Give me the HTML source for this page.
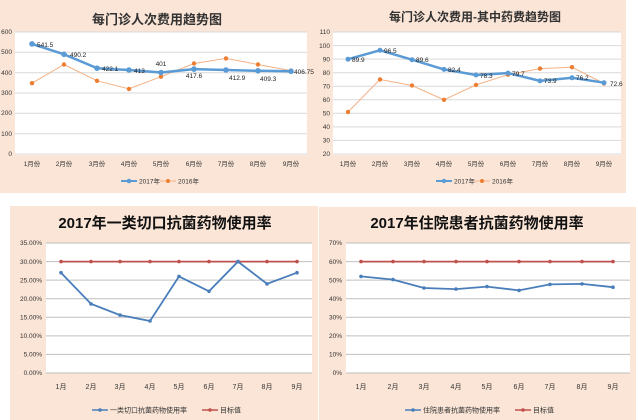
<!DOCTYPE html>
<html><head><meta charset="utf-8"><style>
html,body{margin:0;padding:0;background:#fff;}
svg{display:block;font-family:"Liberation Sans","Noto Sans CJK SC",sans-serif;}
</style></head><body>
<svg width="638" height="420" viewBox="0 0 638 420" xmlns="http://www.w3.org/2000/svg">
<rect x="0" y="0" width="638" height="420" fill="#fff"/>
<!-- panels -->
<rect x="0" y="0" width="626" height="193" fill="#fbe5d6"/>
<rect x="10" y="206" width="308" height="214" fill="#fbe5d6"/>
<rect x="319" y="207" width="317" height="213" fill="#fbe5d6"/>

<!-- ===== Top-left ===== -->
<text x="157" y="24" font-size="13" font-weight="bold" text-anchor="middle" fill="#333">每门诊人次费用趋势图</text>
<rect x="15" y="32" width="292" height="123" fill="#fff"/>
<g stroke="#d9d9d9" stroke-width="1">
<line x1="15" x2="307" y1="154" y2="154"/><line x1="15" x2="307" y1="133.7" y2="133.7"/><line x1="15" x2="307" y1="113.3" y2="113.3"/><line x1="15" x2="307" y1="93" y2="93"/><line x1="15" x2="307" y1="72.7" y2="72.7"/><line x1="15" x2="307" y1="52.3" y2="52.3"/><line x1="15" x2="307" y1="32" y2="32"/>
</g>
<g font-size="6.5" fill="#333" text-anchor="end">
<text x="12" y="156">0</text><text x="12" y="136">100</text><text x="12" y="115">200</text><text x="12" y="95">300</text><text x="12" y="75">400</text><text x="12" y="54">500</text><text x="12" y="34">600</text>
</g>
<g font-size="6.5" fill="#333" text-anchor="middle">
<text x="32" y="166">1月份</text><text x="64" y="166">2月份</text><text x="97" y="166">3月份</text><text x="129" y="166">4月份</text><text x="161" y="166">5月份</text><text x="194" y="166">6月份</text><text x="226" y="166">7月份</text><text x="258" y="166">8月份</text><text x="291" y="166">9月份</text>
</g>
<polyline fill="none" stroke="#f4b183" stroke-width="1" points="32,83.2 64,64.5 97,80.8 129,88.9 161,76.7 194,63.5 226,58.4 258,64.5 291,70.6"/>
<g fill="#ed7d31"><circle cx="32" cy="83.2" r="2.2"/><circle cx="64" cy="64.5" r="2.2"/><circle cx="97" cy="80.8" r="2.2"/><circle cx="129" cy="88.9" r="2.2"/><circle cx="161" cy="76.7" r="2.2"/><circle cx="194" cy="63.5" r="2.2"/><circle cx="226" cy="58.4" r="2.2"/><circle cx="258" cy="64.5" r="2.2"/><circle cx="291" cy="70.6" r="2.2"/></g>
<polyline fill="none" stroke="#5b9bd5" stroke-width="2.5" points="32,43.9 64,54.3 97,68.2 129,70 161,72.5 194,69.1 226,70 258,70.8 291,71.3"/>
<g fill="#5b9bd5"><circle cx="32" cy="43.9" r="2.8"/><circle cx="64" cy="54.3" r="2.8"/><circle cx="97" cy="68.2" r="2.8"/><circle cx="129" cy="70" r="2.8"/><circle cx="161" cy="72.5" r="2.8"/><circle cx="194" cy="69.1" r="2.8"/><circle cx="226" cy="70" r="2.8"/><circle cx="258" cy="70.8" r="2.8"/><circle cx="291" cy="71.3" r="2.8"/></g>
<g font-size="6.5" fill="#222">
<text x="37" y="47">541.5</text><text x="70" y="57">490.2</text><text x="102" y="71">422.1</text><text x="134" y="73">413</text><text x="161" y="66" text-anchor="middle">401</text><text x="194" y="78" text-anchor="middle">417.6</text><text x="229" y="80">412.9</text><text x="260" y="81">409.3</text><text x="294" y="74">406.75</text>
</g>
<line x1="121" x2="137" y1="181" y2="181" stroke="#5b9bd5" stroke-width="2"/><circle cx="129" cy="181" r="2.3" fill="#5b9bd5"/>
<text x="139" y="183.5" font-size="6.5" fill="#333">2017年</text>
<line x1="160" x2="176" y1="181" y2="181" stroke="#f4b183" stroke-width="1"/><circle cx="168" cy="181" r="2" fill="#ed7d31"/>
<text x="178" y="183.5" font-size="6.5" fill="#333">2016年</text>

<!-- ===== Top-right ===== -->
<text x="475" y="21" font-size="12" font-weight="bold" text-anchor="middle" fill="#333">每门诊人次费用-其中药费趋势图</text>
<rect x="333" y="32" width="288" height="123" fill="#fff"/>
<g stroke="#d9d9d9" stroke-width="1">
<line x1="333" x2="621" y1="154" y2="154"/><line x1="333" x2="621" y1="140.4" y2="140.4"/><line x1="333" x2="621" y1="126.9" y2="126.9"/><line x1="333" x2="621" y1="113.3" y2="113.3"/><line x1="333" x2="621" y1="99.8" y2="99.8"/><line x1="333" x2="621" y1="86.2" y2="86.2"/><line x1="333" x2="621" y1="72.7" y2="72.7"/><line x1="333" x2="621" y1="59.1" y2="59.1"/><line x1="333" x2="621" y1="45.6" y2="45.6"/><line x1="333" x2="621" y1="32" y2="32"/>
</g>
<g font-size="6.5" fill="#333" text-anchor="end">
<text x="330" y="156">20</text><text x="330" y="142.5">30</text><text x="330" y="129">40</text><text x="330" y="115.5">50</text><text x="330" y="102">60</text><text x="330" y="88.5">70</text><text x="330" y="75">80</text><text x="330" y="61.5">90</text><text x="330" y="48">100</text><text x="330" y="34">110</text>
</g>
<g font-size="6.5" fill="#333" text-anchor="middle">
<text x="348" y="166">1月份</text><text x="380" y="166">2月份</text><text x="412" y="166">3月份</text><text x="444" y="166">4月份</text><text x="476" y="166">5月份</text><text x="508" y="166">6月份</text><text x="540" y="166">7月份</text><text x="572" y="166">8月份</text><text x="604" y="166">9月份</text>
</g>
<polyline fill="none" stroke="#f4b183" stroke-width="1" points="348,112 380,79.4 412,85.5 444,99.8 476,84.9 508,74.7 540,68.6 572,67.2 604,83.5"/>
<g fill="#ed7d31"><circle cx="348" cy="112" r="2.2"/><circle cx="380" cy="79.4" r="2.2"/><circle cx="412" cy="85.5" r="2.2"/><circle cx="444" cy="99.8" r="2.2"/><circle cx="476" cy="84.9" r="2.2"/><circle cx="508" cy="74.7" r="2.2"/><circle cx="540" cy="68.6" r="2.2"/><circle cx="572" cy="67.2" r="2.2"/><circle cx="604" cy="83.5" r="2.2"/></g>
<polyline fill="none" stroke="#5b9bd5" stroke-width="2.5" points="348,59.2 380,50.3 412,59.7 444,69.4 476,75 508,73.1 540,80.9 572,77.8 604,82.7"/>
<g fill="#5b9bd5"><circle cx="348" cy="59.2" r="2.5"/><circle cx="380" cy="50.3" r="2.5"/><circle cx="412" cy="59.7" r="2.5"/><circle cx="444" cy="69.4" r="2.5"/><circle cx="476" cy="75" r="2.5"/><circle cx="508" cy="73.1" r="2.5"/><circle cx="540" cy="80.9" r="2.5"/><circle cx="572" cy="77.8" r="2.5"/><circle cx="604" cy="82.7" r="2.5"/></g>
<g font-size="6.5" fill="#222">
<text x="352" y="62">89.9</text><text x="384" y="53">96.5</text><text x="416" y="62">89.6</text><text x="448" y="72">82.4</text><text x="480" y="78">78.3</text><text x="512" y="76">79.7</text><text x="544" y="83">73.9</text><text x="576" y="80">76.2</text><text x="610" y="86">72.6</text>
</g>
<line x1="436" x2="452" y1="181" y2="181" stroke="#5b9bd5" stroke-width="2"/><circle cx="444" cy="181" r="2.2" fill="#5b9bd5"/>
<text x="454" y="183.5" font-size="6.5" fill="#333">2017年</text>
<line x1="474" x2="490" y1="181" y2="181" stroke="#f4b183" stroke-width="1"/><circle cx="482" cy="181" r="2" fill="#ed7d31"/>
<text x="492" y="183.5" font-size="6.5" fill="#333">2016年</text>

<!-- ===== Bottom-left ===== -->
<text x="165" y="228" font-size="15" font-weight="bold" text-anchor="middle" fill="#111">2017年一类切口抗菌药物使用率</text>
<rect x="46" y="243" width="266" height="130" fill="#fff"/>
<g stroke="#bfbfbf" stroke-width="1">
<line x1="46" x2="312" y1="373" y2="373"/><line x1="46" x2="312" y1="354.4" y2="354.4"/><line x1="46" x2="312" y1="335.9" y2="335.9"/><line x1="46" x2="312" y1="317.3" y2="317.3"/><line x1="46" x2="312" y1="298.7" y2="298.7"/><line x1="46" x2="312" y1="280.1" y2="280.1"/><line x1="46" x2="312" y1="261.6" y2="261.6"/><line x1="46" x2="312" y1="243" y2="243"/>
</g>
<g font-size="6.5" fill="#333" text-anchor="end">
<text x="42" y="375">0.00%</text><text x="42" y="356.5">5.00%</text><text x="42" y="338">10.00%</text><text x="42" y="319.5">15.00%</text><text x="42" y="301">20.00%</text><text x="42" y="282.5">25.00%</text><text x="42" y="264">30.00%</text><text x="42" y="245">35.00%</text>
</g>
<g font-size="7" fill="#333" text-anchor="middle">
<text x="61" y="389">1月</text><text x="91" y="389">2月</text><text x="120" y="389">3月</text><text x="150" y="389">4月</text><text x="179" y="389">5月</text><text x="209" y="389">6月</text><text x="238" y="389">7月</text><text x="267" y="389">8月</text><text x="297" y="389">9月</text>
</g>
<polyline fill="none" stroke="#c0504d" stroke-width="1.8" points="61,261.6 297,261.6"/>
<g fill="#c0504d"><circle cx="61" cy="261.6" r="1.8"/><circle cx="91" cy="261.6" r="1.8"/><circle cx="120" cy="261.6" r="1.8"/><circle cx="150" cy="261.6" r="1.8"/><circle cx="179" cy="261.6" r="1.8"/><circle cx="209" cy="261.6" r="1.8"/><circle cx="238" cy="261.6" r="1.8"/><circle cx="267" cy="261.6" r="1.8"/><circle cx="297" cy="261.6" r="1.8"/></g>
<polyline fill="none" stroke="#4a7ebb" stroke-width="1.8" points="61,272.7 91,303.9 120,315.1 150,321 179,276.4 209,291.3 238,261.6 267,283.9 297,272.7"/>
<g fill="#4a7ebb"><circle cx="61" cy="272.7" r="1.8"/><circle cx="91" cy="303.9" r="1.8"/><circle cx="120" cy="315.1" r="1.8"/><circle cx="150" cy="321" r="1.8"/><circle cx="179" cy="276.4" r="1.8"/><circle cx="209" cy="291.3" r="1.8"/><circle cx="238" cy="261.6" r="1.8"/><circle cx="267" cy="283.9" r="1.8"/><circle cx="297" cy="272.7" r="1.8"/></g>
<line x1="92" x2="108" y1="410" y2="410" stroke="#4a7ebb" stroke-width="1.5"/><circle cx="100" cy="410" r="1.8" fill="#4a7ebb"/>
<text x="110" y="412.5" font-size="7" fill="#333">一类切口抗菌药物使用率</text>
<line x1="202" x2="218" y1="410" y2="410" stroke="#c0504d" stroke-width="1.5"/><circle cx="210" cy="410" r="1.8" fill="#c0504d"/>
<text x="220" y="412.5" font-size="7" fill="#333">目标值</text>

<!-- ===== Bottom-right ===== -->
<text x="477" y="228" font-size="15" font-weight="bold" text-anchor="middle" fill="#111">2017年住院患者抗菌药物使用率</text>
<rect x="346" y="243" width="284" height="130" fill="#fff"/>
<g stroke="#bfbfbf" stroke-width="1">
<line x1="346" x2="630" y1="373" y2="373"/><line x1="346" x2="630" y1="354.4" y2="354.4"/><line x1="346" x2="630" y1="335.9" y2="335.9"/><line x1="346" x2="630" y1="317.3" y2="317.3"/><line x1="346" x2="630" y1="298.7" y2="298.7"/><line x1="346" x2="630" y1="280.1" y2="280.1"/><line x1="346" x2="630" y1="261.6" y2="261.6"/><line x1="346" x2="630" y1="243" y2="243"/>
</g>
<g font-size="6.5" fill="#333" text-anchor="end">
<text x="342" y="375">0%</text><text x="342" y="356.5">10%</text><text x="342" y="338">20%</text><text x="342" y="319.5">30%</text><text x="342" y="301">40%</text><text x="342" y="282.5">50%</text><text x="342" y="264">60%</text><text x="342" y="245">70%</text>
</g>
<g font-size="7" fill="#333" text-anchor="middle">
<text x="361" y="389">1月</text><text x="393" y="389">2月</text><text x="424" y="389">3月</text><text x="456" y="389">4月</text><text x="487" y="389">5月</text><text x="519" y="389">6月</text><text x="550" y="389">7月</text><text x="582" y="389">8月</text><text x="613" y="389">9月</text>
</g>
<polyline fill="none" stroke="#c0504d" stroke-width="1.8" points="361,261.6 613,261.6"/>
<g fill="#c0504d"><circle cx="361" cy="261.6" r="1.8"/><circle cx="393" cy="261.6" r="1.8"/><circle cx="424" cy="261.6" r="1.8"/><circle cx="456" cy="261.6" r="1.8"/><circle cx="487" cy="261.6" r="1.8"/><circle cx="519" cy="261.6" r="1.8"/><circle cx="550" cy="261.6" r="1.8"/><circle cx="582" cy="261.6" r="1.8"/><circle cx="613" cy="261.6" r="1.8"/></g>
<polyline fill="none" stroke="#4a7ebb" stroke-width="1.8" points="361,276.4 393,279.6 424,288 456,289.1 487,286.6 519,290.4 550,284.4 582,283.9 613,287.2"/>
<g fill="#4a7ebb"><circle cx="361" cy="276.4" r="1.8"/><circle cx="393" cy="279.6" r="1.8"/><circle cx="424" cy="288" r="1.8"/><circle cx="456" cy="289.1" r="1.8"/><circle cx="487" cy="286.6" r="1.8"/><circle cx="519" cy="290.4" r="1.8"/><circle cx="550" cy="284.4" r="1.8"/><circle cx="582" cy="283.9" r="1.8"/><circle cx="613" cy="287.2" r="1.8"/></g>
<line x1="405" x2="421" y1="410" y2="410" stroke="#4a7ebb" stroke-width="1.5"/><circle cx="413" cy="410" r="1.8" fill="#4a7ebb"/>
<text x="423" y="412.5" font-size="7" fill="#333">住院患者抗菌药物使用率</text>
<line x1="515" x2="531" y1="410" y2="410" stroke="#c0504d" stroke-width="1.5"/><circle cx="523" cy="410" r="1.8" fill="#c0504d"/>
<text x="533" y="412.5" font-size="7" fill="#333">目标值</text>
</svg>
</body></html>
